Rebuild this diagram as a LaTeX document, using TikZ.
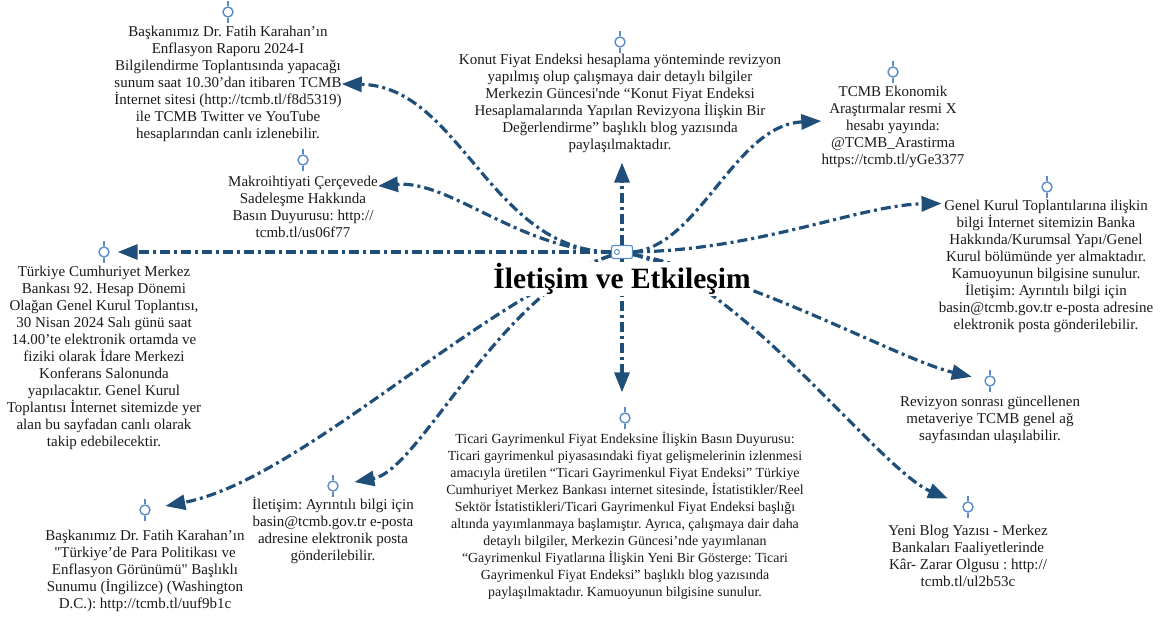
\documentclass[tikz,border=0pt]{standalone}
\usepackage{fontspec}
\setmainfont{Liberation Serif}
\usetikzlibrary{arrows.meta,positioning}
\definecolor{linkblue}{HTML}{1F4E79}
\definecolor{pinblue}{HTML}{5B8CC8}
\definecolor{txtgray}{HTML}{1A1A1A}
\frenchspacing

\begin{document}
\begin{tikzpicture}[x=1pt, y=-1pt,
  txt/.style = {align=center, inner sep=0pt, text=txtgray, font=\fontsize{15}{17}\selectfont},
  pin/.style = {circle, draw=pinblue, line width=1.4pt, minimum size=10pt, inner sep=0pt},
  hubbox/.style = {draw=pinblue, line width=1.2pt, rounded corners=2pt, minimum width=21pt, minimum height=13pt, inner sep=0pt},
  link/.style = {draw=linkblue, line width=3.2pt, dash pattern=on 10pt off 4pt on 3pt off 4pt, -{Triangle[length=20pt,width=15pt]}}]
\useasboundingbox (0,0) rectangle (1168,619);

\node[hubbox] (hub) at (622,252) {};
\draw[pinblue, line width=1pt] ([xshift=6pt]hub.west) circle (2.5pt);

\node[txt] (t1) at (228,84) {Başkanımız Dr. Fatih Karahan’ın\\Enflasyon Raporu 2024-I\\Bilgilendirme Toplantısında yapacağı\\sunum saat 10.30’dan itibaren TCMB\\İnternet sitesi (http://tcmb.tl/f8d5319)\\ile TCMB Twitter ve YouTube\\hesaplarından canlı izlenebilir.};
\node[txt] (t2) at (620,103) {Konut Fiyat Endeksi hesaplama yönteminde revizyon\\yapılmış olup çalışmaya dair detaylı bilgiler\\Merkezin Güncesi\textquotesingle nde “Konut Fiyat Endeksi\\Hesaplamalarında Yapılan Revizyona İlişkin Bir\\Değerlendirme” başlıklı blog yazısında\\paylaşılmaktadır.};
\node[txt] (t3) at (893,127) {TCMB Ekonomik\\Araştırmalar resmi X\\hesabı yayında:\\@TCMB\_Arastirma\\https://tcmb.tl/yGe3377};
\node[txt] (t4) at (303,207) {Makroihtiyati Çerçevede\\Sadeleşme Hakkında\\Basın Duyurusu: http://\\tcmb.tl/us06f77};
\node[txt] (t5) at (104,358) {Türkiye Cumhuriyet Merkez\\Bankası 92. Hesap Dönemi\\Olağan Genel Kurul Toplantısı,\\30 Nisan 2024 Salı günü saat\\14.00’te elektronik ortamda ve\\fiziki olarak İdare Merkezi\\Konferans Salonunda\\yapılacaktır. Genel Kurul\\Toplantısı İnternet sitemizde yer\\alan bu sayfadan canlı olarak\\takip edebilecektir.};
\node[txt] (t6) at (1046,266) {Genel Kurul Toplantılarına ilişkin\\bilgi İnternet sitemizin Banka\\Hakkında/Kurumsal Yapı/Genel\\Kurul bölümünde yer almaktadır.\\Kamuoyunun bilgisine sunulur.\\İletişim: Ayrıntılı bilgi için\\basin@tcmb.gov.tr e-posta adresine\\elektronik posta gönderilebilir.};
\node[txt] (t7) at (990,420) {Revizyon sonrası güncellenen\\metaveriye TCMB genel ağ\\sayfasından ulaşılabilir.};
\node[txt, font=\fontsize{13.9}{17}\selectfont] (t8) at (625,516) {Ticari Gayrimenkul Fiyat Endeksine İlişkin Basın Duyurusu:\\Ticari gayrimenkul piyasasındaki fiyat gelişmelerinin izlenmesi\\amacıyla üretilen “Ticari Gayrimenkul Fiyat Endeksi” Türkiye\\Cumhuriyet Merkez Bankası internet sitesinde, İstatistikler/Reel\\Sektör İstatistikleri/Ticari Gayrimenkul Fiyat Endeksi başlığı\\altında yayımlanmaya başlamıştır. Ayrıca, çalışmaya dair daha\\detaylı bilgiler, Merkezin Güncesi’nde yayımlanan\\“Gayrimenkul Fiyatlarına İlişkin Yeni Bir Gösterge: Ticari\\Gayrimenkul Fiyat Endeksi” başlıklı blog yazısında\\paylaşılmaktadır. Kamuoyunun bilgisine sunulur.};
\node[txt] (t9) at (968,556) {Yeni Blog Yazısı - Merkez\\Bankaları Faaliyetlerinde\\Kâr- Zarar Olgusu : http://\\tcmb.tl/ul2b53c};
\node[txt] (t10) at (333,530) {İletişim: Ayrıntılı bilgi için\\basin@tcmb.gov.tr e-posta\\adresine elektronik posta\\gönderilebilir.};
\node[txt] (t11) at (145,571) {Başkanımız Dr. Fatih Karahan’ın\\\textquotedbl Türkiye’de Para Politikası ve\\Enflasyon Görünümü\textquotedbl\ Başlıklı\\Sunumu (İngilizce) (Washington\\D.C.): http://tcmb.tl/uuf9b1c};

% pins over the texts
\node[pin] (p1) at (228,12) {};
\node[pin] (p2) at (620,42) {};
\node[pin] (p3) at (893,72) {};
\node[pin] (p4) at (303,160) {};
\node[pin] (p5) at (104,252) {};
\node[pin] (p6) at (1047,187) {};
\node[pin] (p7) at (990,381) {};
\node[pin] (p8) at (625,418) {};
\node[pin] (p9) at (968,507) {};
\node[pin] (p10) at (333,486) {};
\node[pin] (p11) at (145,510) {};
\foreach \i in {1,...,11}
  \draw[pinblue, line width=1.4pt] (p\i.north) -- ++(0,5pt) (p\i.south) -- ++(0,-5pt);

% links out of the hub
\draw[link] (hub.west) .. controls (490,250) and (460,86) .. (t1.east);
\draw[link] (hub.west) .. controls (520,250) and (450,180) .. ([yshift=-10pt]t4.north east);
\draw[link, shorten >=8pt] (hub.west) -- (p5);
\draw[link, shorten >=10pt] (hub.north) -- (hub.north |- t2.south);
\draw[link] (hub.east) .. controls (700,245) and (735,125) .. ([yshift=6pt]t3.west);
\draw[link] (hub.east) .. controls (760,250) and (860,205) .. ([xshift=3pt,yshift=-4pt]t6.north west);
\draw[link, shorten >=13pt] (hub) .. controls (760,280) and (900,360) .. (p7);
\draw[link, shorten >=20pt] (hub.south) -- (hub.south |- p8.north);
\draw[link, shorten >=16pt] (hub) .. controls (740,280) and (880,470) .. (p9);
\draw[link, shorten >=16pt] (hub) .. controls (500,290) and (420,470) .. (p10);
\draw[link, shorten >=15pt] (hub) .. controls (480,300) and (300,480) .. (p11);

\node[font=\fontsize{29.5}{31}\selectfont\bfseries, fill=white, inner sep=1pt] (title) at (622,279) {İletişim ve Etkileşim};
\end{tikzpicture}
\end{document}
